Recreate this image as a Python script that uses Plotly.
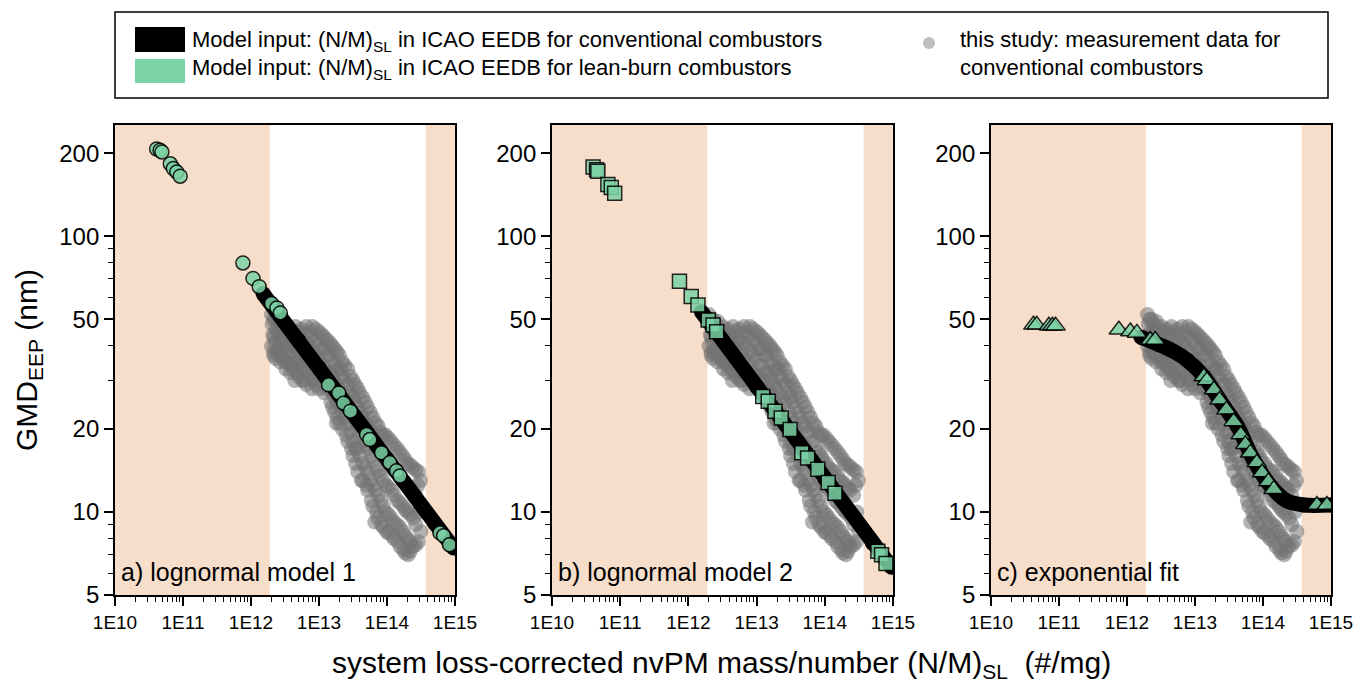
import math
import plotly.graph_objects as go

W, H = 1361, 687

# ---------------- data ----------------
x_tickvals = [1e10, 1e11, 1e12, 1e13, 1e14, 1e15]
x_ticktext = ["1E10", "1E11", "1E12", "1E13", "1E14", "1E15"]
x_minor = [m * 10 ** e for e in range(10, 15) for m in range(2, 10)]
y_tickvals = [5, 10, 20, 50, 100, 200]
y_minor = [6, 7, 8, 9, 30, 40, 60, 70, 80, 90]
x_limits = [1e10, 1e15]
y_limits = [5, 253]
shade_low = [1e10, 1.9e12]
shade_high = [3.7e14, 1e15]

# measurement data (same in every panel)
meas_x = [2.0e12, 2.05e12, 2.1e12, 2.0e12, 2.15e12,
          2.3e12, 2.35e12, 2.25e12, 2.4e12, 2.3e12,
          2.7e12, 2.65e12, 2.8e12, 2.75e12, 2.7e12,
          3.2e12, 3.1e12, 3.3e12, 3.2e12, 3.25e12,
          3.8e12, 3.9e12, 3.7e12, 3.85e12, 3.8e12,
          4.5e12, 4.4e12, 4.6e12, 4.5e12, 4.7e12, 4.4e12,
          5.5e12, 5.4e12, 5.6e12, 5.5e12, 5.7e12,
          6.5e12, 6.7e12, 6.4e12, 6.6e12, 6.5e12,
          8.0e12, 7.8e12, 8.2e12, 8.0e12, 8.3e12, 7.9e12,
          1.0e13, 1.02e13, 0.98e13, 1.03e13, 1.0e13,
          1.2e13, 1.22e13, 1.18e13, 1.25e13, 1.2e13,
          1.45e13, 1.42e13, 1.48e13, 1.45e13, 1.5e13,
          1.7e13, 1.75e13, 1.68e13, 1.72e13, 1.7e13, 1.8e13,
          2.0e13, 2.05e13, 1.95e13, 2.1e13, 2.0e13,
          2.4e13, 2.35e13, 2.45e13, 2.4e13, 2.5e13,
          2.9e13, 2.85e13, 2.95e13, 2.9e13, 3.0e13,
          3.4e13, 3.35e13, 3.5e13, 3.4e13, 3.45e13,
          4.0e13, 4.1e13, 3.9e13, 4.0e13, 4.2e13,
          4.8e13, 4.7e13, 4.9e13, 4.8e13, 5.0e13,
          5.7e13, 5.6e13, 5.8e13, 5.7e13, 5.9e13,
          6.8e13, 6.7e13, 6.9e13, 6.8e13, 7.0e13, 6.6e13,
          8.0e13, 8.2e13, 7.9e13, 8.1e13, 8.3e13,
          9.5e13, 9.3e13, 9.7e13, 9.5e13, 9.8e13,
          1.15e14, 1.12e14, 1.18e14, 1.15e14, 1.2e14,
          1.4e14, 1.38e14, 1.42e14, 1.4e14, 1.45e14,
          1.7e14, 1.68e14, 1.72e14, 1.7e14, 1.75e14,
          2.0e14, 1.98e14, 2.02e14, 2.0e14, 2.05e14,
          2.4e14, 2.35e14, 2.45e14, 2.4e14,
          2.9e14, 2.85e14, 2.95e14, 2.9e14,
          3.1e14, 3.15e14,
          2.15e12, 2.15e12, 2.15e12,
          2.5e12, 2.5e12, 2.5e12,
          2.95e12, 2.95e12, 2.95e12,
          3.5e12, 3.5e12, 3.5e12,
          4.15e12, 4.15e12, 4.15e12, 4.15e12,
          5.0e12, 5.0e12, 5.0e12, 5.0e12,
          6.0e12, 6.0e12, 6.0e12, 6.0e12,
          7.2e12, 7.2e12, 7.2e12, 7.2e12,
          9.0e12, 9.0e12, 9.0e12, 9.0e12, 9.0e12,
          1.1e13, 1.1e13, 1.1e13, 1.1e13,
          1.32e13, 1.32e13, 1.32e13, 1.32e13,
          1.58e13, 1.58e13, 1.58e13, 1.58e13, 1.58e13,
          1.85e13, 1.85e13, 1.85e13, 1.85e13, 1.85e13,
          2.2e13, 2.2e13, 2.2e13, 2.2e13, 2.2e13,
          2.65e13, 2.65e13, 2.65e13, 2.65e13, 2.65e13,
          3.15e13, 3.15e13, 3.15e13, 3.15e13, 3.15e13,
          3.7e13, 3.7e13, 3.7e13, 3.7e13, 3.7e13,
          4.4e13, 4.4e13, 4.4e13, 4.4e13, 4.4e13,
          5.2e13, 5.2e13, 5.2e13, 5.2e13, 5.2e13,
          6.2e13, 6.2e13, 6.2e13, 6.2e13, 6.2e13,
          7.4e13, 7.4e13, 7.4e13, 7.4e13, 7.4e13,
          8.8e13, 8.8e13, 8.8e13, 8.8e13, 8.8e13,
          1.05e14, 1.05e14, 1.05e14, 1.05e14, 1.05e14,
          1.27e14, 1.27e14, 1.27e14, 1.27e14, 1.27e14,
          1.55e14, 1.55e14, 1.55e14, 1.55e14, 1.55e14,
          1.85e14, 1.85e14, 1.85e14, 1.85e14, 1.85e14,
          2.2e14, 2.2e14, 2.2e14, 2.2e14, 2.2e14,
          2.65e14, 2.65e14, 2.65e14, 2.65e14]
meas_y = [52, 48, 44, 40, 38,
          50, 46, 41, 38, 36,
          49, 45, 42, 37, 35,
          47, 43, 39, 35, 33,
          46, 42, 38, 34, 32,
          47, 43, 39, 35, 32, 30,
          46, 42, 37, 33, 30,
          47, 41, 36, 32, 29,
          47, 43, 38, 33, 30, 28,
          45, 41, 36, 31, 28,
          43, 39, 34, 30, 27,
          41, 37, 32, 28, 25,
          39, 34, 30, 26, 23, 21,
          37, 33, 28, 24, 21,
          34, 30, 26, 22, 19,
          31, 27, 23, 19.5, 17,
          29, 25, 21, 17, 15,
          27, 23, 19, 16, 13,
          25, 21, 17.5, 14.5, 12.5,
          23, 19.5, 16, 13, 11,
          21, 18, 14.5, 12, 10, 9.2,
          19.5, 16.5, 13.5, 11, 9,
          19, 15.5, 12.5, 10, 8.5,
          18, 14.5, 12, 9.5, 8.2,
          17, 14, 11, 9, 7.8,
          16, 13, 10.5, 8.5, 7.3,
          15, 12.5, 10, 8, 7,
          14.5, 12, 9.5, 7.5,
          14, 12.5, 10, 7.8,
          13, 8.5,
          50, 43, 37,
          48, 44, 39,
          46, 41, 36,
          45, 40, 35,
          44, 40, 36, 33,
          45, 40, 35, 31,
          44, 39, 34, 30,
          45, 40, 35, 31,
          46, 42, 37, 32, 29,
          44, 39, 34, 30,
          42, 37, 32, 28,
          40, 35, 31, 27, 24,
          38, 33, 29, 25, 22,
          35, 31, 27, 23, 20,
          33, 29, 25, 21, 18,
          30, 26, 22, 18, 16,
          28, 24, 20, 17, 14,
          26, 22, 18, 15, 13,
          24, 20.5, 17, 14, 12,
          22, 19, 15.5, 12.5, 10.5,
          20.5, 17, 14, 11.5, 9.5,
          19, 16, 13, 10.5, 8.8,
          18.5, 15, 12.3, 9.8, 8.4,
          17.5, 14.2, 11.5, 9.2, 8,
          16.5, 13.5, 10.8, 8.8, 7.5,
          15.5, 12.8, 10.2, 8.2, 7.1,
          14.8, 12.2, 9.8, 7.8, 7.2,
          14.2, 11.5, 9, 7.6]

# a) lognormal model 1
a_model_x = [1.5e12, 5e12, 1e13, 5e13, 1e14, 5e14, 9.5e14]
a_model_y = [62, 41.9, 33.4, 19.5, 15.6, 9.1, 7.4]
a_lean_x = [4.1e10, 4.6e10, 4.9e10, 6.5e10, 7.2e10, 8.1e10, 9.1e10, 7.6e11, 1.07e12, 1.32e12,
            2.0e12, 2.4e12, 2.7e12, 1.38e13, 1.95e13, 2.3e13, 2.9e13, 5.0e13, 5.6e13, 8.3e13,
            1.1e14, 1.38e14, 1.55e14, 6.0e14, 6.8e14, 8.3e14]
a_lean_y = [207, 205, 202, 183, 176, 171, 165, 80, 70.3, 65.6,
            57, 54.9, 52.7, 28.9, 27, 24.8, 23.2, 19.1, 18.3, 16.4,
            15.1, 14.1, 13.5, 8.4, 8.2, 7.6]

# b) lognormal model 2
b_model_x = [1.55e12, 5e12, 1e13, 5e13, 1e14, 5e14, 9.5e14]
b_model_y = [53.2, 36, 28.5, 16.7, 13.2, 7.7, 6.3]
b_lean_x = [4.0e10, 4.5e10, 4.7e10, 6.6e10, 7.4e10, 8.3e10, 7.4e11, 1.1e12, 1.38e12,
            1.95e12, 2.3e12, 2.6e12, 1.23e13, 1.48e13, 1.86e13, 2.3e13, 3.1e13, 4.6e13, 5.6e13,
            7.9e13, 1.12e14, 1.41e14, 6.0e14, 6.8e14, 7.9e14]
b_lean_y = [178, 174, 172, 154, 150, 143, 68.7, 60.4, 56.3,
            49.7, 47.6, 45, 26.2, 25.2, 23.2, 21.9, 19.9, 16.4, 15.7,
            14.3, 12.8, 11.7, 7.2, 7.0, 6.5]

# c) exponential fit
c_model_x = [1.6e12, 4.4e12, 7.6e12, 1.35e13, 2.3e13, 4.2e13, 7.2e13, 1.3e14, 2.2e14, 4e14, 1e15]
c_model_y = [43, 38.7, 35.6, 31, 25.5, 20.5, 15.5, 12.4, 11.0, 10.6, 10.6]
c_lean_x = [4.2e10, 4.7e10, 7.1e10, 8.0e10, 8.9e10, 7.6e11, 1.12e12, 1.4e12, 2.2e12, 2.6e12,
            1.35e13, 1.5e13, 1.9e13, 2.3e13, 2.9e13, 3.7e13, 4.7e13, 5.5e13, 6.5e13, 8.1e13,
            9.7e13, 1.2e14, 1.44e14, 6.2e14, 8.7e14]
c_lean_y = [47.7, 47.7, 47.3, 47.3, 47.3, 45.8, 45.1, 44.6, 42, 42,
            31, 30, 27.8, 25.5, 23.5, 21.3, 19.1, 17.6, 16.4, 15.1,
            13.9, 12.9, 12.1, 10.6, 10.6]

panel_labels = ["a) lognormal model 1", "b) lognormal model 2", "c) exponential fit"]
lean_symbols = ["circle", "square", "triangle-up"]
lean_sizes = [14, 14, 17]

# ---------------- style ----------------
FONT = "Liberation Sans, Arial, Helvetica, sans-serif"
SHADE = "rgb(247,222,202)"
GREEN = "rgb(125,212,166)"
GREY_PT = "rgba(115,115,115,0.55)"

x_dom_px = [(115, 455), (552, 893), (991, 1331)]
y_dom_px = (125, 595)


def px(x):
    return x / W


def py(y):
    return 1 - y / H


fig = go.Figure()

models = [(a_model_x, a_model_y, a_lean_x, a_lean_y, False),
          (b_model_x, b_model_y, b_lean_x, b_lean_y, False),
          (c_model_x, c_model_y, c_lean_x, c_lean_y, True)]

for i, (mx, my, lx, ly, curved) in enumerate(models):
    xa = "x" if i == 0 else f"x{i+1}"
    ya = "y" if i == 0 else f"y{i+1}"
    fig.add_trace(go.Scatter(x=meas_x, y=meas_y, xaxis=xa, yaxis=ya, mode="markers",
                             marker=dict(size=15, color=GREY_PT, line=dict(width=0)),
                             showlegend=False, hoverinfo="skip"))
    fig.add_trace(go.Scatter(x=mx, y=my, xaxis=xa, yaxis=ya, mode="lines+markers",
                             line=dict(color="black", width=15,
                                       shape="spline" if curved else "linear", smoothing=0.9),
                             marker=dict(size=15, color="black", symbol="circle"),
                             showlegend=False, hoverinfo="skip"))
    fig.add_trace(go.Scatter(x=lx, y=ly, xaxis=xa, yaxis=ya, mode="markers",
                             marker=dict(size=lean_sizes[i], color=GREEN, opacity=0.85,
                                         symbol=lean_symbols[i],
                                         line=dict(color="black", width=1.5)),
                             showlegend=False, hoverinfo="skip"))

axis_common = dict(type="log", showline=True, linecolor="black", linewidth=1.8, mirror=True,
                   ticks="outside", ticklen=9, tickwidth=1.5, tickcolor="black",
                   showgrid=False, zeroline=False, automargin=False)

layout = dict(width=W, height=H, margin=dict(l=0, r=0, t=0, b=0, autoexpand=False),
              autosize=False, paper_bgcolor="white", plot_bgcolor="white",
              font=dict(family=FONT, color="black"), showlegend=False)

shapes = []
annotations = []
for i in range(3):
    sfx = "" if i == 0 else str(i + 1)
    x0p, x1p = x_dom_px[i]
    layout["xaxis" + sfx] = dict(axis_common, domain=[px(x0p), px(x1p)],
                                 range=[math.log10(x_limits[0]), math.log10(x_limits[1])],
                                 anchor="y" + sfx, tickvals=x_tickvals, ticktext=x_ticktext,
                                 tickfont=dict(size=19, family=FONT),
                                 minor=dict(tickvals=x_minor, ticks="outside", ticklen=5,
                                            tickwidth=1.2, tickcolor="black"))
    layout["yaxis" + sfx] = dict(axis_common, domain=[py(y_dom_px[1]), py(y_dom_px[0])],
                                 range=[math.log10(y_limits[0]), math.log10(y_limits[1])],
                                 anchor="x" + sfx, tickvals=y_tickvals,
                                 ticktext=[str(v) for v in y_tickvals],
                                 tickfont=dict(size=24, family=FONT),
                                 minor=dict(tickvals=y_minor, ticks="outside", ticklen=5,
                                            tickwidth=1.2, tickcolor="black"))
    for lo, hi in (shade_low, shade_high):
        shapes.append(dict(type="rect", xref="x" + sfx, yref="y" + sfx + " domain",
                           x0=lo, x1=hi, y0=0, y1=1, fillcolor=SHADE,
                           line=dict(width=0), layer="below"))
    annotations.append(dict(text=panel_labels[i], xref="x" + sfx + " domain",
                            yref="y" + sfx + " domain", x=0.012, y=0.048,
                            xanchor="left", yanchor="middle", showarrow=False,
                            font=dict(size=25, family=FONT)))

annotations.append(dict(text="GMD<sub>EEP</sub> (nm)", xref="paper", yref="paper",
                        x=px(28), y=py(360), textangle=-90, xanchor="center",
                        yanchor="middle", showarrow=False, font=dict(size=30, family=FONT)))
annotations.append(dict(text="system loss-corrected nvPM mass/number (N/M)<sub>SL</sub>  (#/mg)",
                        xref="paper", yref="paper", x=px(722), y=py(664), xanchor="center",
                        yanchor="middle", showarrow=False, font=dict(size=30, family=FONT)))

# legend
shapes.append(dict(type="rect", xref="paper", yref="paper", x0=px(115), x1=px(1328),
                   y0=py(98), y1=py(12), line=dict(color="black", width=1.5),
                   fillcolor="white", layer="above"))
shapes.append(dict(type="rect", xref="paper", yref="paper", x0=px(135), x1=px(185),
                   y0=py(52), y1=py(27), line=dict(width=0), fillcolor="black"))
shapes.append(dict(type="rect", xref="paper", yref="paper", x0=px(135), x1=px(185),
                   y0=py(83), y1=py(59), line=dict(width=0), fillcolor=GREEN))
shapes.append(dict(type="circle", xref="paper", yref="paper", x0=px(923), x1=px(935),
                   y0=py(49), y1=py(37), line=dict(width=0), fillcolor="rgb(190,190,190)"))

leg_font = dict(size=22, family=FONT)
annotations.append(dict(text="Model input: (N/M)<sub>SL</sub> in ICAO EEDB for conventional combustors",
                        xref="paper", yref="paper", x=px(190), y=py(41), xanchor="left",
                        yanchor="middle", showarrow=False, font=leg_font))
annotations.append(dict(text="Model input: (N/M)<sub>SL</sub> in ICAO EEDB for lean-burn combustors",
                        xref="paper", yref="paper", x=px(190), y=py(69), xanchor="left",
                        yanchor="middle", showarrow=False, font=leg_font))
annotations.append(dict(text="this study: measurement data for",
                        xref="paper", yref="paper", x=px(958), y=py(40), xanchor="left",
                        yanchor="middle", showarrow=False, font=leg_font))
annotations.append(dict(text="conventional combustors",
                        xref="paper", yref="paper", x=px(958), y=py(67), xanchor="left",
                        yanchor="middle", showarrow=False, font=leg_font))

layout["shapes"] = shapes
layout["annotations"] = annotations
fig.update_layout(**layout)

fig.write_html("out.html")
